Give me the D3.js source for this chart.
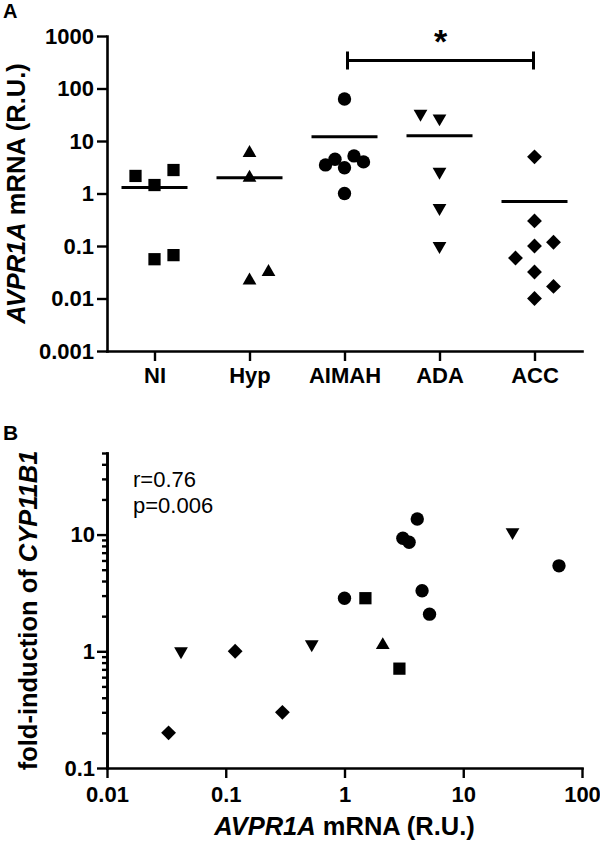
<!DOCTYPE html>
<html><head><meta charset="utf-8">
<script src="https://cdn.jsdelivr.net/npm/d3@7"></script>
<style>
body{margin:0;background:#fff}
svg{display:block}
text{font-family:Arial,"Liberation Sans",Helvetica,sans-serif}
</style>
</head><body>
<svg id="c" width="600" height="843"></svg>
<script>
// ---------- Panel A data ----------
const categories = ["NI", "Hyp", "AIMAH", "ADA", "ACC"];
const valuesNI    = [2.16, 1.45, 2.8, 0.056, 0.067];
const valuesHyp   = [5.9, 2.0, 0.022, 0.032];
const valuesAIMAH = [63, 3.5, 4.5, 3.1, 5.2, 4.0, 1.0];
const valuesADA   = [33, 27, 2.6, 0.53, 0.1];
const valuesACC   = [5.0, 0.30, 0.10, 0.118, 0.059, 0.032, 0.017, 0.010];
// column-scatter slot index of each point (GraphPad-style spread)
const slotsNI    = [-1, 0, 1, 0, 1];
const slotsHyp   = [0, 0, 0, 1];
const slotsAIMAH = [0, -1, -0.5, 0, 0.5, 1, 0];
const slotsADA   = [-1, 0, 0, 0, 0];
const slotsACC   = [0, 0, 0, 1, -1, 0, 1, 0];
const tickValsA   = [0.001, 0.01, 0.1, 1, 10, 100, 1000];
const tickLabelsA = ["0.001", "0.01", "0.1", "1", "10", "100", "1000"];
const sigPair = ["AIMAH", "ACC"];
const sigLevel = 340;
const sigLabel = "*";

// ---------- Panel B data ----------
const bCircleX = [4.1, 3.1, 3.5, 64, 4.5, 1.0, 5.2];
const bCircleY = [13.6, 9.3, 8.6, 5.4, 3.3, 2.85, 2.08];
const bDownX   = [26, 0.53, 0.042];
const bDownY   = [10.5, 1.15, 1.0];
const bUpX     = [2.1];
const bUpY     = [1.13];
const bSquareX = [1.5, 2.9];
const bSquareY = [2.85, 0.71];
const bDiamondX = [0.30, 0.12, 0.033];
const bDiamondY = [0.30, 1.0, 0.20];
const xTickValsB   = [0.01, 0.1, 1, 10, 100];
const xTickLabelsB = ["0.01", "0.1", "1", "10", "100"];
const yTickValsB   = [0.1, 1, 10];
const yTickLabelsB = ["0.1", "1", "10"];
const yMinorB = [0.2,0.3,0.4,0.5,0.6,0.7,0.8,0.9,2,3,4,5,6,7,8,9,20,30,40,50];
const statLines = ["r=0.76", "p=0.006"];

// ---------- drawing ----------
const svg = d3.select("#c");
const FONT = 'Arial, "Liberation Sans", Helvetica, sans-serif';

const shapes = {
  square:  {type: d3.symbolSquare,   size: 150, rot: 0},
  up:      {type: d3.symbolTriangle, size: 82,  rot: 0},
  circle:  {type: d3.symbolCircle,   size: 140, rot: 0},
  down:    {type: d3.symbolTriangle, size: 82,  rot: 180},
  diamond: {type: d3.symbolSquare,   size: 110, rot: 45}
};
function sym(name){ return d3.symbol().type(shapes[name].type).size(shapes[name].size)(); }

function styleAxis(g, fs){
  g.attr("font-family", FONT).attr("font-size", fs).attr("font-weight", "bold");
  g.selectAll("path.domain").attr("stroke", "#000").attr("stroke-width", 2.6).attr("stroke-linecap","square");
  g.selectAll(".tick line").attr("stroke", "#000").attr("stroke-width", 2.4);
  g.selectAll(".tick text").attr("fill", "#000");
}

// ===== Panel A =====
const xA = d3.scalePoint().domain(categories).range([107, 582]).padding(0.5);
const yA = d3.scaleLog().domain([0.001, 1000]).range([351, 36]);
const slotW = 19;

const groupsA = [
  {cat:"NI",    vals:valuesNI,    slots:slotsNI,    shape:"square"},
  {cat:"Hyp",   vals:valuesHyp,   slots:slotsHyp,   shape:"up"},
  {cat:"AIMAH", vals:valuesAIMAH, slots:slotsAIMAH, shape:"circle"},
  {cat:"ADA",   vals:valuesADA,   slots:slotsADA,   shape:"down"},
  {cat:"ACC",   vals:valuesACC,   slots:slotsACC,   shape:"diamond"}
];

const gA = svg.append("g");
const yAxisA = gA.append("g").attr("transform","translate(107,0)")
  .call(d3.axisLeft(yA).tickValues(tickValsA).tickFormat((d,i)=>tickLabelsA[i]).tickSize(10).tickPadding(3).tickSizeOuter(0));
styleAxis(yAxisA, 22);
const xAxisA = gA.append("g").attr("transform","translate(0,351)")
  .call(d3.axisBottom(xA).tickSize(10).tickPadding(6).tickSizeOuter(0));
styleAxis(xAxisA, 22);
xAxisA.selectAll(".tick text").attr("dy","0.71em");

groupsA.forEach(g => {
  const pts = g.vals.map((v,i)=>({v, s:g.slots[i]}));
  gA.append("g").selectAll("path").data(pts).join("path")
    .attr("d", sym(g.shape))
    .attr("transform", d => `translate(${xA(g.cat) + d.s*slotW},${yA(d.v)}) rotate(${shapes[g.shape].rot})`)
    .attr("fill","#000");
  const m = d3.mean(g.vals);
  gA.append("line")
    .attr("x1", xA(g.cat)-33).attr("x2", xA(g.cat)+33)
    .attr("y1", yA(m)).attr("y2", yA(m))
    .attr("stroke","#000").attr("stroke-width",3);
});

// significance bracket
const bx1 = xA(sigPair[0]) + 3, bx2 = xA(sigPair[1]) - 1, by = yA(sigLevel);
gA.append("path")
  .attr("d", `M${bx1},${by}H${bx2}M${bx1},${by-9}V${by+9}M${bx2},${by-9}V${by+9}`)
  .attr("stroke","#000").attr("stroke-width",3).attr("fill","none");
gA.append("text").attr("x",(bx1+bx2)/2).attr("y", by-8).attr("text-anchor","middle")
  .attr("font-size",34).attr("font-weight","bold").attr("font-family",FONT).text(sigLabel);

// y title A
const tA = gA.append("text").attr("transform","translate(25,193.5) rotate(-90)")
  .attr("text-anchor","middle").attr("font-size",25.5).attr("font-weight","bold").attr("font-family",FONT);
tA.append("tspan").attr("font-style","italic").text("AVPR1A");
tA.append("tspan").text(" mRNA (R.U.)");

svg.append("text").attr("x",3).attr("y",18).attr("font-size",20).attr("font-weight","bold").attr("font-family",FONT).text("A");

// ===== Panel B =====
const xB = d3.scaleLog().domain([0.01, 100]).range([107, 582]);
const yB = d3.scaleLog().domain([0.1, 50]).range([768, 453]);
const gB = svg.append("g");

const yMinorAxis = gB.append("g").attr("transform","translate(107,0)")
  .call(d3.axisLeft(yB).tickValues(yMinorB).tickFormat("").tickSize(5).tickSizeOuter(0));
styleAxis(yMinorAxis, 22);
const yAxisB = gB.append("g").attr("transform","translate(107,0)")
  .call(d3.axisLeft(yB).tickValues(yTickValsB).tickFormat((d,i)=>yTickLabelsB[i]).tickSize(10).tickPadding(2).tickSizeOuter(0));
styleAxis(yAxisB, 22);
const xAxisB = gB.append("g").attr("transform","translate(0,768)")
  .call(d3.axisBottom(xB).tickValues(xTickValsB).tickFormat((d,i)=>xTickLabelsB[i]).tickSize(10).tickPadding(8).tickSizeOuter(0));
styleAxis(xAxisB, 22);

const groupsB = [
  {xs:bCircleX,  ys:bCircleY,  shape:"circle"},
  {xs:bDownX,    ys:bDownY,    shape:"down"},
  {xs:bUpX,      ys:bUpY,      shape:"up"},
  {xs:bSquareX,  ys:bSquareY,  shape:"square"},
  {xs:bDiamondX, ys:bDiamondY, shape:"diamond"}
];
groupsB.forEach(g => {
  const pts = g.xs.map((x,i)=>({x, y:g.ys[i]}));
  gB.append("g").selectAll("path").data(pts).join("path")
    .attr("d", sym(g.shape))
    .attr("transform", d => `translate(${xB(d.x)},${yB(d.y)}) rotate(${shapes[g.shape].rot})`)
    .attr("fill","#000");
});

gB.selectAll("text.stat").data(statLines).join("text").attr("class","stat")
  .attr("x",133).attr("y",(d,i)=>487 + i*26)
  .attr("font-size",22).attr("font-family",FONT).text(d=>d);

const tBy = gB.append("text").attr("transform","translate(37,610.5) rotate(-90)")
  .attr("text-anchor","middle").attr("font-size",25.5).attr("font-weight","bold").attr("font-family",FONT);
tBy.append("tspan").text("fold-induction of ");
tBy.append("tspan").attr("font-style","italic").text("CYP11B1");

const tBx = gB.append("text").attr("x",344.5).attr("y",835)
  .attr("text-anchor","middle").attr("font-size",25.5).attr("font-weight","bold").attr("font-family",FONT);
tBx.append("tspan").attr("font-style","italic").text("AVPR1A");
tBx.append("tspan").text(" mRNA (R.U.)");

svg.append("text").attr("x",3).attr("y",440).attr("font-size",21).attr("font-weight","bold").attr("font-family",FONT).text("B");
</script>
</body></html>
